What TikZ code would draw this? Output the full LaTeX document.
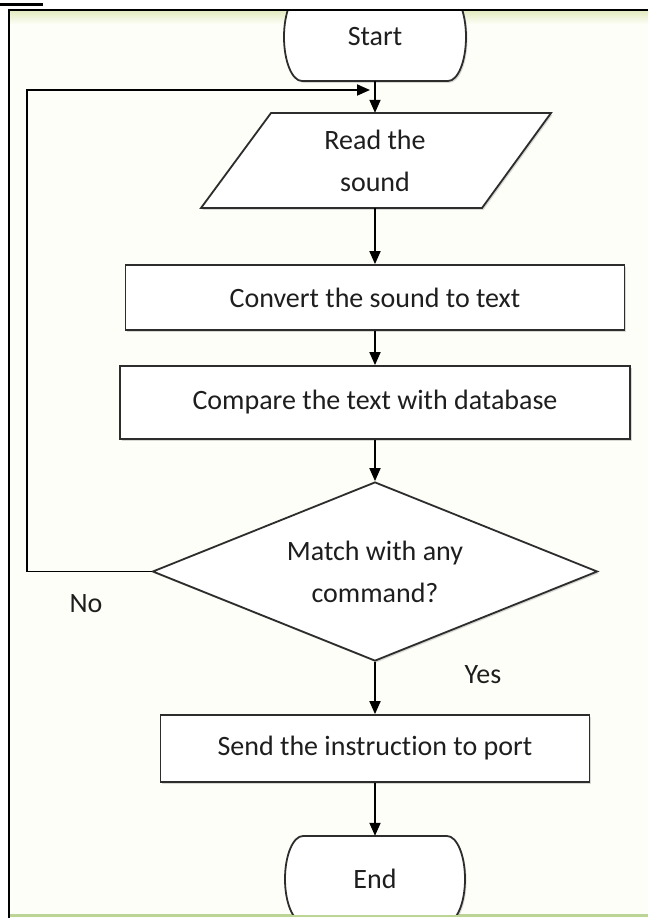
\documentclass[tikz,border=0pt]{standalone}
\usepackage{fontspec}
\setmainfont{Carlito}[Ligatures=NoCommon]
\usetikzlibrary{arrows.meta,shapes.geometric,shadows}
\definecolor{bgc}{RGB}{253,254,247}
\definecolor{topc}{RGB}{226,234,190}
\definecolor{botc}{RGB}{188,212,150}
\definecolor{edgec}{RGB}{45,45,45}
\definecolor{txtc}{RGB}{30,30,30}
\begin{document}
\begin{tikzpicture}[x=1pt,y=-1pt,
  lab/.style={font=\fontsize{28}{42}\selectfont, text=txtc, align=center, inner sep=0pt},
  shp/.style={draw=edgec, fill=white, line width=1.8pt,
    drop shadow={shadow xshift=1.5pt, shadow yshift=-1.8pt, opacity=0.3, fill=gray}},
  boxnode/.style={lab, shp, minimum width=#1, rectangle},
  conn/.style={draw=black, line width=1.8pt, -{Triangle[length=13pt,width=11pt]}}]
\useasboundingbox (0,0) rectangle (648,918);
% background and frame
\fill[white] (0,0) rectangle (648,918);
\fill[bgc] (9,10) rectangle (648,918);
\shade[top color=topc, bottom color=bgc] (9,10) rectangle (648,24);
\fill[black] (0,3) rectangle (43,5.6);
\draw[botc, line width=3pt] (10,915.5) -- (648,915.5);
\draw[black, line width=2pt] (9,918) -- (9,10) -- (648,10);
% terminals (clipped by the frame)
\begin{scope}
\clip (10,11) rectangle (648,914);
\path[shp] (302,81) -- (448,81) arc[start angle=-90,end angle=90,x radius=18pt,y radius=44pt]
  -- (302,-7) arc[start angle=90,end angle=270,x radius=18pt,y radius=44pt] -- cycle;
\path[shp] (303,836) -- (447,836) arc[start angle=90,end angle=-90,x radius=18pt,y radius=43pt]
  -- (303,922) arc[start angle=270,end angle=90,x radius=18pt,y radius=43pt] -- cycle;
\end{scope}
% input parallelogram
\path[shp] (201,208) -- (271,113) -- (551,113) -- (482,208) -- cycle;
% nodes
\node[lab, minimum width=182pt, minimum height=88pt] (start) at (375,37) {Start};
\node[lab, minimum width=280pt, minimum height=95pt] (read) at (375,160.5) {Read the\\sound};
\node[boxnode=499pt, minimum height=65pt] (conv) at (375,297.5) {Convert the sound to text};
\node[boxnode=510pt, minimum height=73pt] (comp) at (375,402.5) {Compare the text with database};
\node[lab, shp, diamond, aspect=2.5, minimum width=445pt, minimum height=179pt] (dec) at (375,571.5) {Match with any\\command?};
\node[boxnode=429pt, minimum height=67pt] (send) at (375,748.5) {Send the instruction to port};
\node[lab, minimum width=180pt, minimum height=86pt] (end) at (375,879) {End};
\node[lab] (no) at (86,604) {No};
\node[lab] (yes) at (483,675) {Yes};
% connectors
\coordinate (lc) at (27,90);
\coordinate (loopend) at (370,90);
\draw[conn] (start.south) -- (read.north);
\draw[conn] (read.south) -- (conv.north);
\draw[conn] (conv.south) -- (comp.north);
\draw[conn] (comp.south) -- (dec.north);
\draw[conn] (dec.south) -- (send.north);
\draw[conn] (send.south) -- (end.north);
\draw[conn] (dec.west) -| (lc) -- (loopend);
\end{tikzpicture}
\end{document}
